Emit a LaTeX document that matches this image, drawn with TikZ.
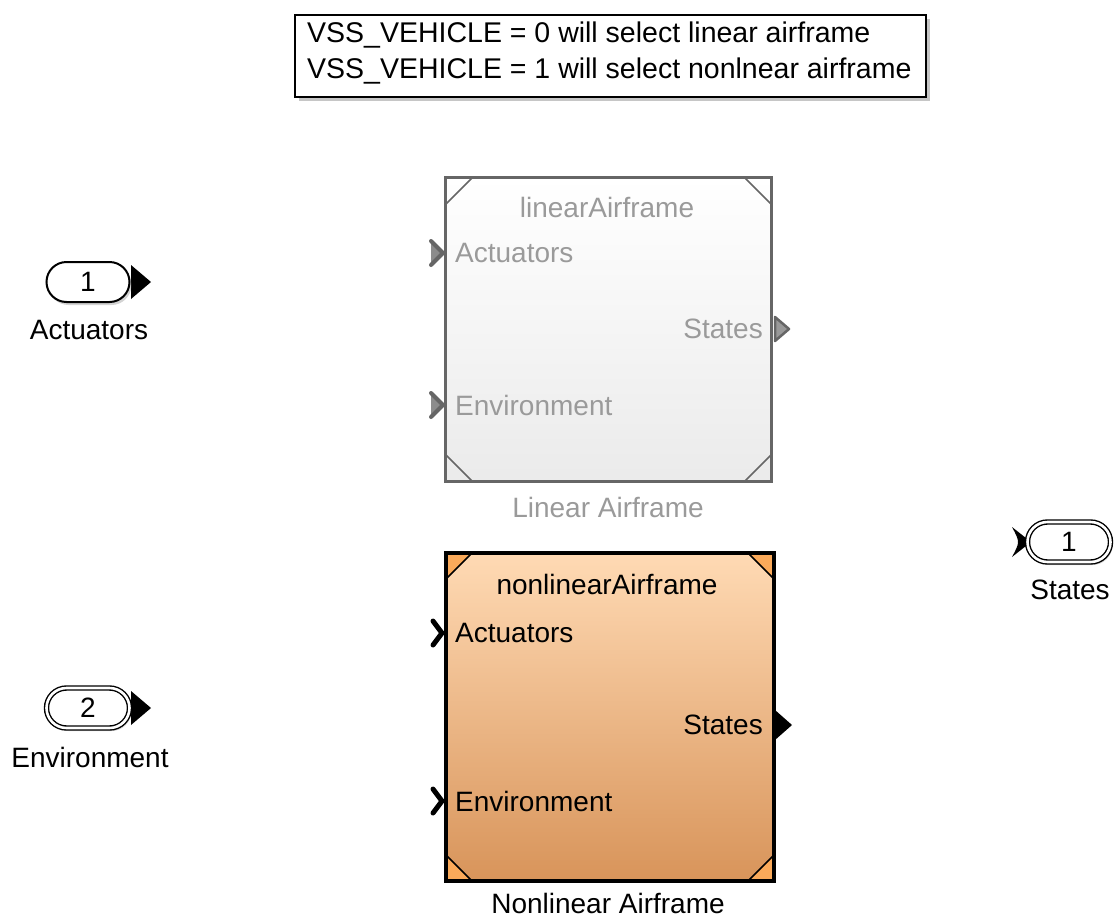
\documentclass[tikz,border=0pt]{standalone}
\usepackage{fontspec}
\setmainfont{Liberation Sans}
\usetikzlibrary{shadows,calc}
\definecolor{lingray}{HTML}{9A9A9A}
\definecolor{linedge}{HTML}{666666}
\definecolor{peachtop}{HTML}{FFDAB4}
\definecolor{peachbot}{HTML}{D8945A}
\definecolor{cornerorange}{HTML}{FBAA5A}
\tikzset{
  txt/.style={font=\fontsize{28}{30}\selectfont, inner sep=0pt},
  portbox/.style={draw, rounded corners=20pt, minimum width=83pt, minimum height=40pt,
    inner sep=0pt, fill=white, font=\fontsize{28}{30}\selectfont,
    drop shadow={shadow xshift=2pt, shadow yshift=-3pt, opacity=0.35}},
  singleline/.style={line width=2pt},
  doubleline/.style={line width=1.4pt, double=white, double distance=2.6pt},
  blockbox/.style={inner sep=0pt, outer sep=0pt, anchor=north west},
  inchev/.style={line width=5pt, line cap=round, line join=round},
}
\begin{document}
\begin{tikzpicture}[x=1pt,y=-1pt]
\useasboundingbox (0,0) rectangle (1115,918);

% annotation
\node[draw, line width=2pt, fill=white, minimum width=631pt, minimum height=82pt, anchor=north west,
  inner sep=0pt, drop shadow={shadow xshift=4pt, shadow yshift=-4pt, opacity=0.45}] (note) at (294,14) {};
\node[txt, anchor=west, align=left, font=\fontsize{28.5}{36}\selectfont] (notetext) at (307,53)
  {VSS\_VEHICLE = 0 will select linear airframe\\VSS\_VEHICLE = 1 will select nonlnear airframe};

% inport 1
\fill (131,265) -- (151,282) -- (131,299) -- cycle;
\node[portbox, singleline] (in1) at (88,282) {1};
\node[txt] (in1lbl) at (89,330) {Actuators};

% inport 2
\fill (131,691) -- (151,708) -- (131,725) -- cycle;
\node[portbox, doubleline] (in2) at (88,708) {2};
\node[txt] (in2lbl) at (90,757) {Environment};

% outport 1
\fill (1012,527) -- (1031,542) -- (1012,557) .. controls (1020,542) .. (1012,527);
\node[portbox, doubleline] (out1) at (1069,542) {1};
\node[txt] (out1lbl) at (1070,590) {States};

% linear airframe (inactive variant)
\node[blockbox, minimum width=326pt, minimum height=304pt, top color=white, bottom color=black!8] (lin) at (445.5,177.5) {};
\draw[linedge, line width=1.5pt] ($(lin.north west)+(27,0)$) -- ($(lin.north west)+(0,27)$);
\draw[linedge, line width=1.5pt] ($(lin.north east)+(-27,0)$) -- ($(lin.north east)+(0,27)$);
\draw[linedge, line width=1.5pt] ($(lin.south west)+(27,0)$) -- ($(lin.south west)+(0,-27)$);
\draw[linedge, line width=1.5pt] ($(lin.south east)+(-27,0)$) -- ($(lin.south east)+(0,-27)$);
\draw[linedge, line width=3pt] (lin.north west) rectangle (lin.south east);
\node[txt, text=lingray] (lintitle) at (607,207) {linearAirframe};
\node[txt, text=lingray, anchor=west] (linA) at (455,253) {Actuators};
\node[txt, text=lingray, anchor=west] (linE) at (455,405) {Environment};
\node[txt, text=lingray, anchor=east] (linS) at (763,329) {States};
\foreach \py in {253,405}{
  \fill[black!45] (431,\py-12) -- (443,\py) -- (431,\py+12) -- cycle;
  \draw[inchev, linedge, line width=4pt] (431,\py-12) -- (443,\py) -- (431,\py+12);
}
\filldraw[fill=black!40, draw=linedge, line width=2.5pt, line join=round] (775,317) -- (789,329) -- (775,341) -- cycle;
\node[txt, text=lingray] (linlbl) at (608,507) {Linear Airframe};

% nonlinear airframe
\node[blockbox, minimum width=328pt, minimum height=328pt, top color=peachtop, bottom color=peachbot] (nl) at (446,553) {};
\filldraw[fill=cornerorange, draw=black, line width=1.5pt] (nl.north west) -- ++(26,0) -- ++(-26,26) -- cycle;
\filldraw[fill=cornerorange, draw=black, line width=1.5pt] (nl.north east) -- ++(-26,0) -- ++(26,26) -- cycle;
\filldraw[fill=cornerorange, draw=black, line width=1.5pt] (nl.south west) -- ++(26,0) -- ++(-26,-26) -- cycle;
\filldraw[fill=cornerorange, draw=black, line width=1.5pt] (nl.south east) -- ++(-26,0) -- ++(26,-26) -- cycle;
\draw[black, line width=4pt] (nl.north west) rectangle (nl.south east);
\node[txt] (nltitle) at (607,584) {nonlinearAirframe};
\node[txt, anchor=west] (nlA) at (455,633) {Actuators};
\node[txt, anchor=west] (nlE) at (455,801) {Environment};
\node[txt, anchor=east] (nlS) at (763,725) {States};
\foreach \py in {633,801}{
  \draw[inchev, black] (433,\py-12) -- (442,\py) -- (433,\py+12);
}
\fill (775,710) -- (792,725) -- (775,740) -- cycle;
\node[txt] (nllbl) at (608,903) {Nonlinear Airframe};
\end{tikzpicture}
\end{document}
